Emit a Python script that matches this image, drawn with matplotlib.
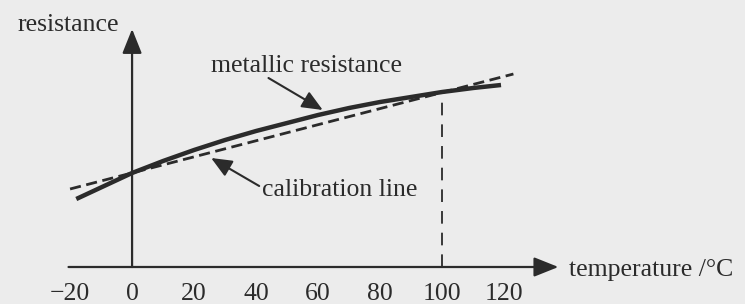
import matplotlib
matplotlib.use("Agg")
import matplotlib.pyplot as plt

# data (arbitrary resistance units)
metal_T = [-18, 0, 10, 20, 30, 40, 50, 60, 70, 80, 90, 100, 110, 119]
metal_R = [68, 94, 106, 117, 127, 136, 144, 152, 159, 165, 170, 175, 179, 182]
calib_T = [-20, 123]
calib_R = [78, 193]
tick_vals = [-20, 0, 20, 40, 60, 80, 100, 120]
tick_labels = ["\u221220", "0", "20", "40", "60", "80", "100", "120"]

BG = "#ececec"
INK = "#2b2b2b"
FONT = "Liberation Serif"
FS = 18.5

fig = plt.figure(figsize=(7.45, 3.04), dpi=100, facecolor=BG)
ax = fig.add_axes([0, 0, 1, 1])
ax.set_facecolor(BG)
ax.set_xlim(-42.6, 197.7)
ax.set_ylim(-37, 267)
ax.axis("off")

# axes with arrows
ax.annotate("", xy=(137.5, 0), xytext=(-20.5, 0),
            arrowprops=dict(arrowstyle="-|>,head_length=0.75,head_width=0.3",
                            color=INK, lw=1.6, shrinkA=0, shrinkB=0,
                            mutation_scale=20))
ax.annotate("", xy=(0, 238), xytext=(0, 0),
            arrowprops=dict(arrowstyle="-|>,head_length=0.75,head_width=0.3",
                            color=INK, lw=1.6, shrinkA=0, shrinkB=0,
                            mutation_scale=20))

# calibration line (dashed)
ax.plot(calib_T, calib_R, color=INK, lw=2.0, linestyle=(0, (4, 2)),
        solid_capstyle="butt", zorder=3)
# metallic resistance curve
ax.plot(metal_T, metal_R, color=INK, lw=3.2, solid_capstyle="butt", zorder=4)

# vertical dashed line at 100
ax.plot([100, 100], [0, metal_R[metal_T.index(100)]], color=INK, lw=1.3,
        linestyle=(0, (7, 5)), zorder=2)

# tick labels
for v, lab in zip(tick_vals, tick_labels):
    ax.text(v, -27, lab, ha="center", va="center", fontsize=FS,
            family=FONT, color=INK)

ax.text(141, -3, "temperature /\u00b0C", ha="left", va="center",
        fontsize=FS, family=FONT, color=INK)
ax.text(-20.5, 242, "resistance", ha="center", va="center",
        fontsize=FS, family=FONT, color=INK)

# annotations
ax.text(25.3, 201, "metallic resistance", ha="left", va="center",
        fontsize=FS, family=FONT, color=INK)
ax.annotate("", xy=(61.5, 157), xytext=(44, 189),
            arrowprops=dict(arrowstyle="-|>,head_length=0.7,head_width=0.3",
                            color=INK, lw=1.5, shrinkA=0, shrinkB=0,
                            mutation_scale=18))
ax.text(42, 77, "calibration line", ha="left", va="center",
        fontsize=FS, family=FONT, color=INK)
ax.annotate("", xy=(25.5, 109), xytext=(41, 81),
            arrowprops=dict(arrowstyle="-|>,head_length=0.7,head_width=0.3",
                            color=INK, lw=1.5, shrinkA=0, shrinkB=0,
                            mutation_scale=18))

fig.savefig("out.png", dpi=100, facecolor=BG)
